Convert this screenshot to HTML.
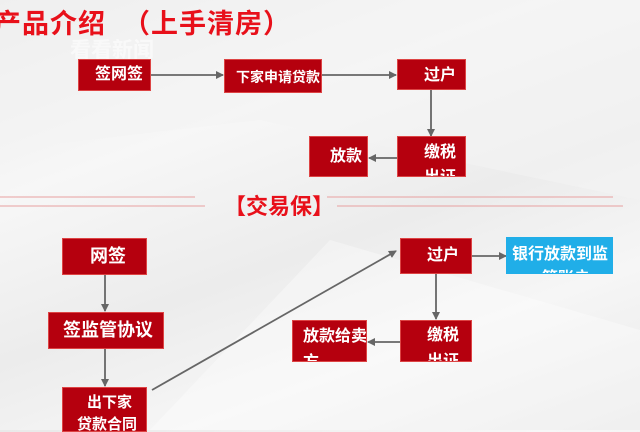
<!DOCTYPE html>
<html><head><meta charset="utf-8"><style>
body{margin:0;width:640px;height:430px;overflow:hidden;position:relative;font-family:"Liberation Sans","Noto Sans CJK SC",sans-serif;
background:linear-gradient(160deg,#e9e9e9 0%,#f7f7f7 30%,#ececec 55%,#f6f6f6 75%,#e8e8e8 100%);}
.b{position:absolute;background:#b5000e;color:#fff;font-weight:bold;overflow:hidden;box-sizing:border-box;border:1px solid #d44;line-height:22px;white-space:nowrap;}
.t{position:absolute;white-space:nowrap;}
svg{position:absolute;left:0;top:0}
</style></head><body>
<svg width="640" height="430">
<polygon points="0,150 260,120 640,200 640,0 0,0" fill="#f4f4f4" opacity="0.6"/>
<polygon points="150,430 330,240 640,330 640,430" fill="#ffffff" opacity="0.35"/>
<defs><marker id="a" markerWidth="8" markerHeight="8" refX="7" refY="4" orient="auto" markerUnits="userSpaceOnUse"><path d="M0,0 L8,4 L0,8 Z" fill="#666"/></marker></defs>
<g stroke="#666" stroke-width="1.8" fill="none" marker-end="url(#a)">
<line x1="151" y1="75" x2="223" y2="75"/>
<line x1="322" y1="75" x2="396" y2="75"/>
<line x1="431" y1="90" x2="431" y2="136"/>
<line x1="397" y1="158" x2="369" y2="158"/>
<line x1="105" y1="275" x2="105" y2="311"/>
<line x1="105" y1="349" x2="105" y2="386"/>
<line x1="152" y1="390" x2="396" y2="251"/>
<line x1="472" y1="256" x2="506" y2="256"/>
<line x1="436" y1="274" x2="436" y2="319"/>
<line x1="400" y1="342" x2="368" y2="342"/>
</g>
<g stroke="#e8a0a0" stroke-width="1">
<line x1="0" y1="197" x2="195" y2="197"/><line x1="0" y1="206" x2="205" y2="206"/>
<line x1="327" y1="197" x2="613" y2="197"/><line x1="337" y1="206" x2="623" y2="206"/>
</g>
</svg>
<div class="t" style="left:-6px;top:2px;font-size:27px;color:#e8101a;font-weight:bold;letter-spacing:1px">产品介绍 &nbsp;（上手清房）</div>
<div class="t" style="left:70px;top:34px;font-size:21px;color:#fff;opacity:0.6;font-weight:bold">看看新闻</div>
<div class="t" style="left:224px;top:189px;font-size:22px;color:#e8101a;font-weight:bold">【交易保】</div>

<div class="b" style="left:78px;top:59px;width:73px;height:32px;font-size:16px;padding:4px 0 0 16px">签网签</div>
<div class="b" style="left:224px;top:59px;width:98px;height:34px;font-size:14px;padding:6px 0 0 11px">下家申请贷款</div>
<div class="b" style="left:397px;top:59px;width:69px;height:31px;font-size:16px;padding:5px 0 0 26px">过户</div>
<div class="b" style="left:397px;top:136px;width:69px;height:41px;font-size:16px;padding:3px 0 0 26px;line-height:25px">缴税<br>出证</div>
<div class="b" style="left:309px;top:136px;width:59px;height:41px;font-size:16px;padding:9px 0 0 20px">放款</div>

<div class="b" style="left:62px;top:238px;width:85px;height:37px;font-size:18px;padding:6px 0 0 27px">网签</div>
<div class="b" style="left:48px;top:312px;width:116px;height:37px;font-size:18px;padding:6px 0 0 14px">签监管协议</div>
<div class="b" style="left:62px;top:387px;width:85px;height:45px;font-size:15px;padding:4px 0 0 24px;line-height:22px">出下家<br><span style="margin-left:-10px">贷款合同</span></div>
<div class="b" style="left:400px;top:238px;width:72px;height:36px;font-size:16px;padding:6px 0 0 26px">过户</div>
<div class="b" style="left:506px;top:237px;width:107px;height:37px;font-size:16px;padding:5px 0 0 5px;background:#20aee8;border-color:#20aee8;line-height:24px">银行放款到监<br><span style="margin-left:30px">管账户</span></div>
<div class="b" style="left:400px;top:320px;width:72px;height:42px;font-size:16px;padding:2px 0 0 26px;line-height:26px">缴税<br>出证</div>
<div class="b" style="left:292px;top:320px;width:75px;height:42px;font-size:16px;padding:3px 0 0 10px;line-height:26px">放款给卖<br>方</div>
</body></html>
